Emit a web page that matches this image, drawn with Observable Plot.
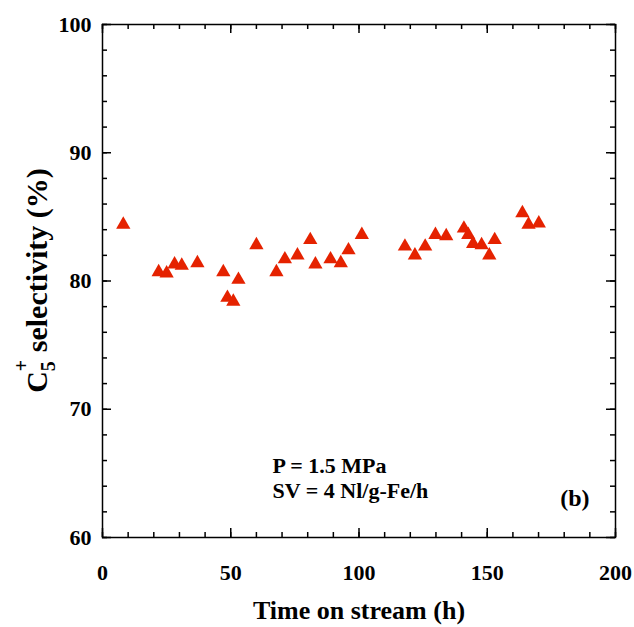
<!DOCTYPE html>
<html><head><meta charset="utf-8">
<script src="https://cdn.jsdelivr.net/npm/d3@7"></script>
<script src="https://cdn.jsdelivr.net/npm/@observablehq/plot@0.6"></script>
<style>body{margin:0;background:#fff} #chart{width:634px;height:627px}</style>
</head><body><div id="chart"></div>
<script>
const timeOnStream = [8.1, 21.9, 25.0, 28.1, 30.9, 37.0, 47.1, 48.7, 51.0, 53.0, 60.0, 67.8, 71.1, 76.0, 81.0, 83.0, 88.9, 92.9, 95.9, 101.1,
  117.9, 121.8, 125.8, 129.8, 134.0, 140.9, 142.6, 144.5, 147.8, 150.8, 152.9, 163.7, 166.1, 170.1];
const selectivity = [84.4, 80.7, 80.6, 81.3, 81.2, 81.4, 80.7, 78.7, 78.4, 80.1, 82.8, 80.7, 81.7, 82.0, 83.2, 81.3, 81.7, 81.4, 82.4, 83.6,
  82.7, 82.0, 82.7, 83.6, 83.5, 84.1, 83.6, 82.9, 82.8, 82.0, 83.2, 85.3, 84.4, 84.5];
const xTickLabels = [0, 50, 100, 150, 200];
const xMinorTicks = [0, 10, 20, 30, 40, 50, 60, 70, 80, 90, 100, 110, 120, 130, 140, 150, 160, 170, 180, 190, 200];
const yTickLabels = [60, 70, 80, 90, 100];
const yMinorTicks = [60, 62, 64, 66, 68, 70, 72, 74, 76, 78, 80, 82, 84, 86, 88, 90, 92, 94, 96, 98, 100];
const xTitle = "Time on stream (h)";
const noteLines = ["P = 1.5 MPa", "SV = 4 Nl/g-Fe/h"];
const panelTag = "(b)";

const data = timeOnStream.map((t, i) => ({t, s: selectivity[i]}));
const W = 634, H = 627, mL = 102, mR = 19, mT = 24, mB = 90;
const innerW = W - mL - mR, innerH = H - mT - mB;
const font = "'Liberation Serif','Times New Roman',serif";
const tickStyle = {stroke: "black", strokeWidth: 1.5};

const chart = Plot.plot({
  width: W, height: H,
  marginLeft: mL, marginRight: mR, marginTop: mT, marginBottom: mB,
  style: {fontFamily: font, fontWeight: "bold", background: "white", color: "black", fontSize: "22px"},
  x: {domain: [0, 200]},
  y: {domain: [60, 100]},
  marks: [
    // minor ticks (inside, all four sides)
    Plot.ruleX(xMinorTicks, {x: d => d, insetTop: innerH - 5, ...tickStyle}),
    Plot.ruleX(xMinorTicks, {x: d => d, insetBottom: innerH - 5, ...tickStyle}),
    Plot.ruleY(yMinorTicks, {y: d => d, insetRight: innerW - 5, ...tickStyle}),
    Plot.ruleY(yMinorTicks, {y: d => d, insetLeft: innerW - 5, ...tickStyle}),
    // major ticks
    Plot.ruleX(xTickLabels, {x: d => d, insetTop: innerH - 9, ...tickStyle}),
    Plot.ruleX(xTickLabels, {x: d => d, insetBottom: innerH - 9, ...tickStyle}),
    Plot.ruleY(yTickLabels, {y: d => d, insetRight: innerW - 9, ...tickStyle}),
    Plot.ruleY(yTickLabels, {y: d => d, insetLeft: innerW - 9, ...tickStyle}),
    Plot.axisX(xTickLabels, {tickSize: 0, tickPadding: 27, fontSize: 22, fontWeight: "bold", label: null}),
    Plot.axisY(yTickLabels, {tickSize: 0, tickPadding: 11, fontSize: 22, fontWeight: "bold", label: null}),
    Plot.frame({stroke: "black", strokeWidth: 1.5}),
    Plot.dot(data, {x: "t", y: "s", symbol: "triangle", r: 5.3, fill: "#e52200", stroke: "none"}),
    Plot.text([noteLines[0]], {x: 66.3, y: 65.0, text: d => d, textAnchor: "start", lineAnchor: "bottom", fontSize: 22, fontWeight: "bold", fill: "black"}),
    Plot.text([noteLines[1]], {x: 66.3, y: 63.05, text: d => d, textAnchor: "start", lineAnchor: "bottom", fontSize: 22, fontWeight: "bold", fill: "black"}),
    Plot.text([panelTag], {x: 189.9, y: 62.42, text: d => d, textAnchor: "end", lineAnchor: "bottom", fontSize: 24, fontWeight: "bold", fill: "black"}),
    Plot.text([xTitle], {frameAnchor: "bottom", dy: 81, text: d => d, lineAnchor: "bottom", fontSize: 26, fontWeight: "bold", fill: "black"})
  ]
});
document.getElementById("chart").appendChild(chart);

// y-axis title with stacked subscript/superscript
const yl = d3.select(chart).append("text")
  .attr("transform", `translate(47,${mT + innerH / 2}) rotate(-90)`)
  .attr("text-anchor", "middle")
  .attr("font-family", font)
  .attr("font-weight", "bold")
  .attr("font-size", 30)
  .attr("fill", "black");
yl.append("tspan").text("C");
yl.append("tspan").attr("font-size", 20).attr("dy", 8).text("5");
yl.append("tspan").attr("font-size", 20).attr("dx", -10).attr("dy", -27).text("+");
yl.append("tspan").attr("dy", 19).text(" selectivity (%)");
</script>
</body></html>
